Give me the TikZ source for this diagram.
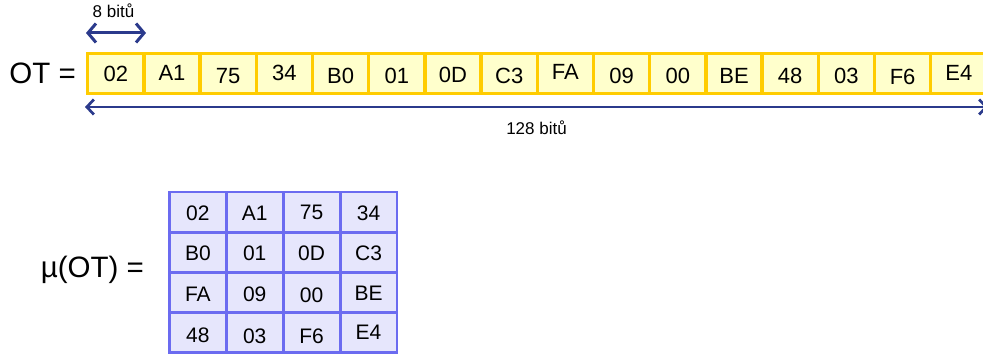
\documentclass[tikz,border=0pt]{standalone}
\usepackage{fontspec}
\setmainfont{Liberation Sans}
\usetikzlibrary{arrows.meta}
\definecolor{ybord}{HTML}{FFCC00}
\definecolor{yfill}{HTML}{FFFFCC}
\definecolor{mbord}{HTML}{6B6BF0}
\definecolor{mfill}{HTML}{E6E6FC}
\definecolor{arr}{HTML}{2B3A8C}
\begin{document}
\begin{tikzpicture}[x=1pt,y=-1pt,
  ocell/.style={draw=ybord,fill=yfill,line width=3.4pt,minimum width=56.2pt,minimum height=40pt,inner sep=0pt,outer sep=0pt},
  mcell/.style={draw=mbord,fill=mfill,line width=2.8pt,minimum width=56.9pt,minimum height=40.2pt,inner sep=0pt,outer sep=0pt},
  ctext/.style={font=\fontsize{22}{22}\selectfont,inner sep=0pt},
  mtext/.style={font=\fontsize{21}{21}\selectfont,inner sep=0pt},
  bigtext/.style={font=\fontsize{29.5}{29.5}\selectfont,inner sep=0pt},
  smalltext/.style={font=\fontsize{17}{17}\selectfont,inner sep=0pt},
  dimarrow/.style={draw=arr,line width=3pt,{Straight Barb[length=8pt,width=19pt]}-{Straight Barb[length=8pt,width=19pt]}},
  longarrow/.style={draw=arr,line width=2.7pt,{Straight Barb[length=7pt,width=15pt]}-{Straight Barb[length=7pt,width=15pt]}}]
\useasboundingbox (0,0) rectangle (983,355);
\fill[white] (0,0) rectangle (983,355);

% top row
\foreach \t/\dy [count=\i] in {02/0.5,A1/-1,75/2.5,34/-1,B0/2.5,01/2,0D/1.5,C3/2.5,FA/-1.5,09/2.5,00/2,BE/2,48/2,03/2,F6/3,E4/-0.5}{
  \node[ocell] (c\i) at ({87.7+56.2*(\i-0.5)},73.5) {};
  \node[ctext] (t\i) at ({87.7+56.2*(\i-0.5)},{73.5+\dy}) {\t};
}
\node[bigtext,anchor=east] (ot) at (76,73.5) {OT =};

% dimension arrows
\coordinate (a1) at (86,33);
\coordinate (a2) at (146,33);
\draw[dimarrow] (a1) -- (a2);
\node[smalltext] (l8) at (113.5,10.5) {8 bitů};
\coordinate (b1) at (85,107);
\coordinate (b2) at (988,107);
\draw[longarrow] (b1) -- (b2);
\node[smalltext] (l128) at (536.5,127.5) {128 bitů};

% matrix
\foreach \row/\vals [count=\r] in {
  1/{02/1,A1/1,75/-0.3,34/1},
  2/{B0/1,01/1,0D/1,C3/0.5},
  3/{FA/1.4,09/1.6,00/2.3,BE/0.6},
  4/{48/2.4,03/3.2,F6/3.2,E4/-1}}{
  \foreach \t/\dy [count=\c] in \vals {
    \node[mcell] (m\r\c) at ({169.4+56.9*(\c-0.5)},{192.1+40.2*(\r-0.5)}) {};
    \node[mtext] (mt\r\c) at ({169.4+56.9*(\c-0.5)},{192.1+40.2*(\r-0.5)+\dy}) {\t};
  }
}
\node[bigtext,anchor=east] (mot) at (144,270) {µ(OT) =};
\end{tikzpicture}
\end{document}
